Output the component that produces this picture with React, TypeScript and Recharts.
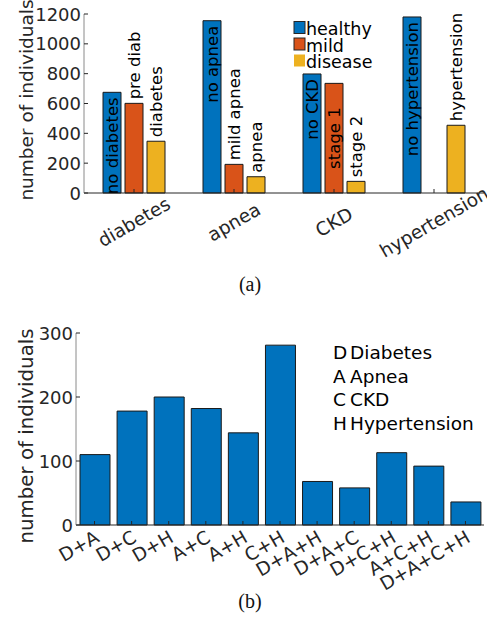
import React from 'react';
import { BarChart, Bar, XAxis, YAxis, Legend } from 'recharts';

const FONT = '"DejaVu Sans", sans-serif';
const INK = '#262626';
const BOX = '#8a8a8a';
const BLUE = '#0072BD';
const ORANGE = '#D95319';
const YELLOW = '#EDB120';

// (a) severity per condition
const conditions = ['diabetes', 'apnea', 'CKD', 'hypertension'];
const severities = ['healthy', 'mild', 'disease'];
const healthyCounts = [675, 1155, 798, 1180];
const mildCounts = [601, 192, 735, 0];
const diseaseCounts = [347, 109, 78, 454];
const healthyLabels = ['no diabetes', 'no apnea', 'no CKD', 'no hypertension'];
const mildLabels = ['pre diab', 'mild apnea', 'stage 1', ''];
const diseaseLabels = ['diabetes', 'apnea', 'stage 2', 'hypertension'];
const severityTicks = [0, 200, 400, 600, 800, 1000, 1200];

// (b) comorbidity combinations
const combos = ['D+A', 'D+C', 'D+H', 'A+C', 'A+H', 'C+H', 'D+A+H', 'D+A+C', 'D+C+H', 'A+C+H', 'D+A+C+H'];
const comboCounts = [110, 178, 200, 182, 144, 281, 68, 58, 113, 92, 36];
const comboTicks = [0, 100, 200, 300];
const abbrevs = ['D', 'A', 'C', 'H'];
const abbrevNames = ['Diabetes', 'Apnea', 'CKD', 'Hypertension'];

const severityData = conditions.map((c, i) => ({
  condition: c,
  healthy: healthyCounts[i],
  mild: mildCounts[i],
  disease: diseaseCounts[i],
}));

const comboData = combos.map((c, i) => ({ combo: c, count: comboCounts[i] }));

// labels that sit inside their bar (pushed down so they clear the legend)
const tucked: Record<string, number> = { 'stage 1': 24 };

const barLabel = (labels: string[], inside: boolean) => (props: any) => {
  const { x, y, width, index } = props;
  const text = labels[index];
  if (!text) return null;
  const cx = x + width / 2;
  const down = tucked[text];
  const isInside = inside || down !== undefined;
  const ty = isInside ? y + (down ?? 5) : y - 4;
  return (
    <text
      x={cx}
      y={ty}
      dy={6}
      transform={`rotate(-90 ${cx} ${ty})`}
      textAnchor={isInside ? 'end' : 'start'}
      fontFamily={FONT}
      fontSize={16.5}
      fill="#000"
    >
      {text}
    </text>
  );
};

const LeftTick = (props: any) => {
  const { x, y, payload } = props;
  return (
    <g>
      <line x1={x} x2={x + 4} y1={y} y2={y} stroke={INK} />
      <text x={x - 3} y={y} textAnchor="end" dominantBaseline="central" fontFamily={FONT} fontSize={18} fill={INK}>
        {payload.value}
      </text>
    </g>
  );
};

const RightTick = (props: any) => {
  const { x, y } = props;
  return <line x1={x - 4} x2={x} y1={y} y2={y} stroke={INK} />;
};

const TopTick = (props: any) => {
  const { x, y } = props;
  return <line x1={x} x2={x} y1={y} y2={y + 4} stroke={INK} />;
};

const ConditionTick = (props: any) => {
  const { x, y, payload } = props;
  const ty = y + 29;
  return (
    <g>
      <line x1={x} x2={x} y1={y} y2={y - 4} stroke={INK} />
      <text
        x={x}
        y={ty}
        transform={`rotate(-30 ${x} ${ty})`}
        textAnchor="middle"
        dominantBaseline="central"
        fontFamily={FONT}
        fontSize={18.5}
        fill={INK}
      >
        {payload.value}
      </text>
    </g>
  );
};

const ComboTick = (props: any) => {
  const { x, y, payload } = props;
  const tx = x + 6;
  const ty = y + 16;
  return (
    <g>
      <line x1={x} x2={x} y1={y} y2={y - 4} stroke={INK} />
      <text
        x={tx}
        y={ty}
        transform={`rotate(-30 ${tx} ${ty})`}
        textAnchor="end"
        fontFamily={FONT}
        fontSize={18.5}
        fill={INK}
      >
        {payload.value}
      </text>
    </g>
  );
};

const yLabel = (shift: number, size: number) => (props: any) => {
  const vb = props.viewBox || {};
  const cx = (vb.x ?? 0) + 33;
  const cy = (vb.y ?? 0) + (vb.height ?? 0) / 2 + shift;
  return (
    <text
      x={cx}
      y={cy}
      transform={`rotate(-90 ${cx} ${cy})`}
      textAnchor="middle"
      fontFamily={FONT}
      fontSize={size}
      fill={INK}
    >
      number of individuals
    </text>
  );
};

const SeverityLegend = (props: any) => {
  const items = (props.payload || [])
    .filter((p: any) => severities.includes(p.value))
    .sort((a: any, b: any) => severities.indexOf(a.value) - severities.indexOf(b.value));
  return (
    <svg width={100} height={52} style={{ display: 'block' }}>
      {items.map((p: any, i: number) => (
        <g key={p.value}>
          <rect
            x={1}
            y={i * 16.5 + 1.5}
            width={11}
            height={12}
            fill={p.color}
            stroke={p.value === 'disease' ? 'none' : INK}
            strokeWidth={1}
          />
          <text x={13} y={i * 16.5 + 15} fontFamily={FONT} fontSize={17.5} fill="#000">
            {p.value}
          </text>
        </g>
      ))}
    </svg>
  );
};

const ComboKey = () => (
  <svg width={150} height={110} style={{ display: 'block' }}>
    {abbrevs.map((a, i) => (
      <text key={a} y={19 + i * 23.7} fontFamily={FONT} fontSize={18.5} fill="#000">
        <tspan x={0}>{a}</tspan>
        <tspan x={17}>{abbrevNames[i]}</tspan>
      </text>
    ))}
  </svg>
);

const caption: React.CSSProperties = {
  position: 'absolute',
  left: 0,
  width: 500,
  textAlign: 'center',
  fontFamily: '"Liberation Serif", serif',
  fontSize: 20,
  color: '#111',
  lineHeight: '22px',
};

export default function App() {
  return (
    <div style={{ position: 'absolute', left: 0, top: 0, width: 487, height: 624, background: '#fff' }}>
      <div style={{ position: 'absolute', left: 0, top: 0 }}>
        <BarChart
          width={487}
          height={300}
          data={severityData}
          margin={{ top: 14, right: 3, left: 0, bottom: 0 }}
          barGap={4}
        >
          <Bar dataKey="healthy" name="healthy" fill={BLUE} stroke="#1a1a1a" barSize={18} isAnimationActive={false} label={barLabel(healthyLabels, true)} />
          <Bar dataKey="mild" name="mild" fill={ORANGE} stroke="#1a1a1a" barSize={18} isAnimationActive={false} label={barLabel(mildLabels, false)} />
          <Bar dataKey="disease" name="disease" fill={YELLOW} stroke="#1a1a1a" barSize={18} isAnimationActive={false} label={barLabel(diseaseLabels, false)} />
          <XAxis dataKey="condition" height={107} tickSize={0} tickMargin={0} tickLine={false} axisLine={{ stroke: INK }} tick={ConditionTick} interval={0} />
          <XAxis xAxisId="top" dataKey="condition" orientation="top" height={0} tickSize={0} tickMargin={0} tickLine={false} axisLine={{ stroke: BOX }} tick={TopTick} interval={0} />
          <YAxis
            width={84}
            domain={[0, 1200]}
            ticks={severityTicks}
            tickSize={0}
            tickMargin={0}
            tickLine={false}
            axisLine={{ stroke: BOX }}
            tick={LeftTick}
            label={{ content: yLabel(-3.5, 18.5) }}
          />
          <YAxis yAxisId="right" orientation="right" width={0} domain={[0, 1200]} ticks={severityTicks} tickSize={0} tickMargin={0} tickLine={false} axisLine={{ stroke: BOX }} tick={RightTick} />
          <Legend
            layout="horizontal"
            verticalAlign="middle"
            align="center"
            content={SeverityLegend}
            wrapperStyle={{ left: 293, top: 20, width: 100, height: 52 }}
          />
        </BarChart>
      </div>
      <div style={{ ...caption, top: 273 }}>(a)</div>

      <div style={{ position: 'absolute', left: 0, top: 310 }}>
        <BarChart
          width={487}
          height={314}
          data={comboData}
          margin={{ top: 23, right: 3, left: 0, bottom: 0 }}
        >
          <Bar dataKey="count" fill={BLUE} stroke="#1a1a1a" barSize={30} isAnimationActive={false} />
          <XAxis dataKey="combo" height={99} tickSize={0} tickMargin={0} tickLine={false} axisLine={{ stroke: INK }} tick={ComboTick} interval={0} />
          <XAxis xAxisId="top" dataKey="combo" orientation="top" height={0} tickSize={0} tickMargin={0} tickLine={false} axisLine={{ stroke: BOX }} tick={TopTick} interval={0} />
          <YAxis
            width={76}
            domain={[0, 300]}
            ticks={comboTicks}
            tickSize={0}
            tickMargin={0}
            tickLine={false}
            axisLine={{ stroke: BOX }}
            tick={LeftTick}
            label={{ content: yLabel(7, 19.8) }}
          />
          <YAxis yAxisId="right" orientation="right" width={0} domain={[0, 300]} ticks={comboTicks} tickSize={0} tickMargin={0} tickLine={false} axisLine={{ stroke: BOX }} tick={RightTick} />
          <Legend
            layout="horizontal"
            verticalAlign="middle"
            align="center"
            content={ComboKey}
            wrapperStyle={{ left: 333, top: 30, width: 150, height: 110 }}
          />
        </BarChart>
      </div>
      <div style={{ ...caption, top: 590 }}>(b)</div>
    </div>
  );
}
